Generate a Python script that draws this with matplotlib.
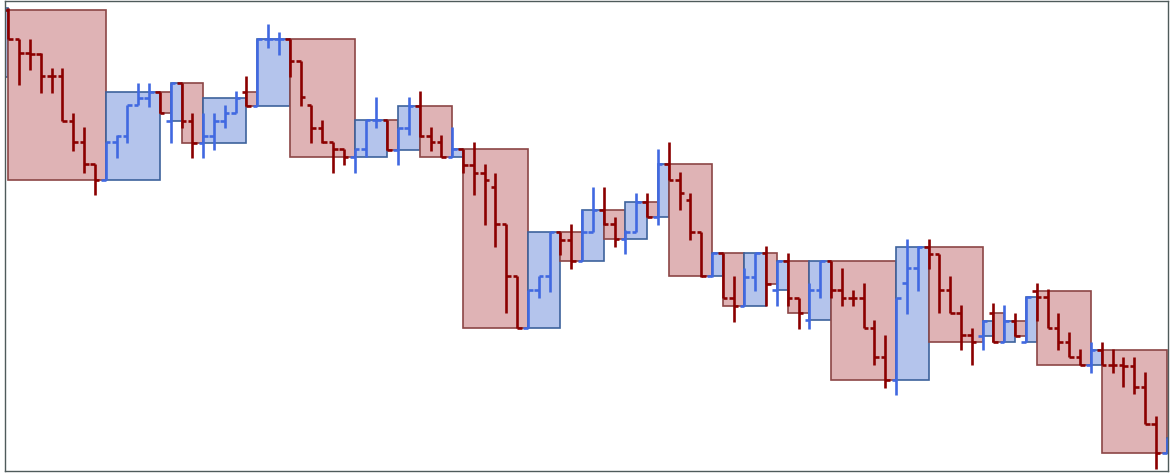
import numpy as np
import matplotlib
matplotlib.use("Agg")
import matplotlib.pyplot as plt
from matplotlib.patches import Rectangle

# OHLC values (first bar sits just left of the view)
opens = [423, 490, 460.7, 446.7, 446, 424, 423.5, 379.3, 358.3, 335.7,
         319.5, 358.3, 364, 395, 401.7, 408, 379.3, 416.7, 379.3, 357.3,
         364, 379.3, 386.7, 408.3, 394, 460.5, 460.7, 460.5, 439.3, 395,
         372, 358, 350.7, 343.3, 350.7, 380, 380, 350, 371.7, 394,
         364, 358, 343.3, 350.7, 335.3, 327.3, 312.7, 275.7, 224, 171.7,
         210, 224, 268, 260, 239, 268.3, 289.5, 275.7, 260.5, 268.3,
         298.3, 283.3, 335.7, 320, 300, 268.3, 224, 246.7, 202.3, 194.3,
         223.3, 246.7, 210, 239, 202.3, 180, 210, 239, 210, 202.3,
         202, 171.7, 143.3, 120, 216.7, 231.7, 253.3, 245.7, 210, 186.7,
         165, 164, 186.7, 158, 179.3, 158.3, 209.3, 202.7, 171.7, 158.3,
         142.7, 135, 150, 135, 134.7, 134.5, 113.3, 76, 46.7]
highs = [491.7, 491.7, 460.7, 460.7, 447, 432, 432, 387.3, 373, 335.7,
         358.3, 365, 395, 416.7, 416.7, 408.3, 416.7, 416.7, 386.7, 386.7,
         386.7, 395, 409.3, 424, 460.7, 476, 468.3, 460.7, 439.3, 395,
         380, 358, 350.7, 350.7, 380, 402.7, 380, 371.7, 402.7, 409.3,
         372.7, 365, 372.7, 350.7, 358.3, 335.7, 327.3, 275.7, 224, 210,
         224, 268.3, 268.3, 276, 290, 312.7, 312.7, 283.3, 270, 306.7,
         306.7, 350.7, 358.3, 328.3, 307.3, 268.3, 246.7, 246.7, 224.3, 231.7,
         246.7, 254.3, 239, 246.7, 202.3, 216.7, 239, 239, 231.7, 210,
         216.7, 180, 165, 202.3, 261, 254.3, 261, 245.7, 224.3, 195,
         172.5, 180, 196.7, 195, 187.3, 202.7, 216.7, 210.7, 187.3, 168.3,
         150.7, 158.3, 158.3, 150.7, 142.7, 142.7, 128.3, 84, 61.7]
lows = [423, 460.7, 415, 430, 407.3, 407.3, 379.3, 349.3, 327, 305,
        319.5, 341.7, 356.7, 395, 393.3, 386.7, 356.7, 371.7, 341.7, 341.7,
        350, 371.7, 386.7, 394, 394, 451.7, 445, 423.3, 394, 357.3,
        357.3, 327.3, 335, 327.3, 343.3, 371.7, 350, 335, 365, 363.3,
        349.3, 342.7, 342.7, 326.7, 305, 275, 253.3, 186.7, 171.7, 171.7,
        201.7, 208.3, 245, 230.7, 239, 268.3, 275, 253.3, 246, 268.3,
        282.7, 275, 320, 290, 260, 223.3, 223.3, 202.3, 178.3, 194.3,
        209, 194.3, 194.3, 194.3, 171, 171, 201.7, 202.3, 194.3, 194.3,
        171.7, 135, 112.3, 105, 185.7, 209, 231, 186.7, 186.7, 150,
        135, 150, 157.7, 158, 164, 158.3, 179.3, 171.7, 150, 142.7,
        135, 127.3, 135, 127.3, 113.3, 106, 76, 30.7, 46.7]
closes = [491.7, 460.7, 446.7, 446, 424, 423.5, 379.3, 358.3, 335.7, 319.5,
          358.3, 364, 395, 401.7, 408, 386.7, 416.7, 379.3, 357.3, 364,
          379.3, 386.7, 401.7, 394, 460.5, 460.7, 461, 439.3, 402.7, 372,
          358, 350.7, 343.3, 350.7, 380, 380.3, 350, 371.7, 394, 364,
          358, 343.3, 350.7, 335.3, 327.3, 320, 275.7, 224, 171.7, 210,
          224, 268, 260, 239, 268.3, 289.5, 275.7, 260.5, 268.3, 298.3,
          283.3, 335.7, 320, 307.3, 268.3, 224, 246.7, 202.3, 194.3, 223.3,
          246.7, 215.7, 239, 202.3, 186.7, 210, 239, 210, 202.3, 202,
          171.7, 143.3, 120, 202.3, 231.7, 253.3, 245.7, 210, 186.7, 165,
          157.7, 179, 158, 179.3, 164, 202.7, 202.7, 171.7, 158.3, 142.7,
          135, 150, 135, 134.7, 134.5, 113.3, 76, 46.7, 61.7]

up_col, down_col = 'royalblue', 'darkred'
up_face, down_face = '#b4c4ec', '#dfb3b5'
up_edge, down_edge = '#3d629c', '#8c4646'

o = np.array(opens); h = np.array(highs); l = np.array(lows); c = np.array(closes)
x = np.arange(len(o)) - 1
up = c > o
cols = np.where(up, up_col, down_col)

fig = plt.figure(figsize=(11.73, 4.73), dpi=100)
ax = fig.add_axes([4.7/1173, 2/473, 1163.3/1173, 470/473])

# boxes around runs of up / down bars
start = 0
n = len(o)
for i in range(1, n + 1):
    if i == n or up[i] != up[start]:
        x0 = x[start]
        x1 = x[i] if i < n else x[-1] + 1
        y0, y1 = o[start], c[i - 1]
        fc, ec = (up_face, up_edge) if up[start] else (down_face, down_edge)
        ax.add_patch(Rectangle((x0, min(y0, y1)), x1 - x0, abs(y1 - y0),
                               facecolor=fc, edgecolor=ec, lw=1.2, zorder=1))
        start = i

tw = 0.42
ax.vlines(x, l, h, colors=cols, lw=1.9, zorder=2)
ax.hlines(o, x - tw, x, colors=cols, lw=1.9, zorder=2)
ax.hlines(c, x, x + tw, colors=cols, lw=1.9, zorder=2)

ax.set_xlim(-0.333, 107.12)
ax.set_ylim(29, 499)
ax.set_xticks([])
ax.set_yticks([])
for s in ax.spines.values():
    s.set_color('#4f5b5b')
    s.set_linewidth(1)

fig.savefig('out.png', dpi=100)
